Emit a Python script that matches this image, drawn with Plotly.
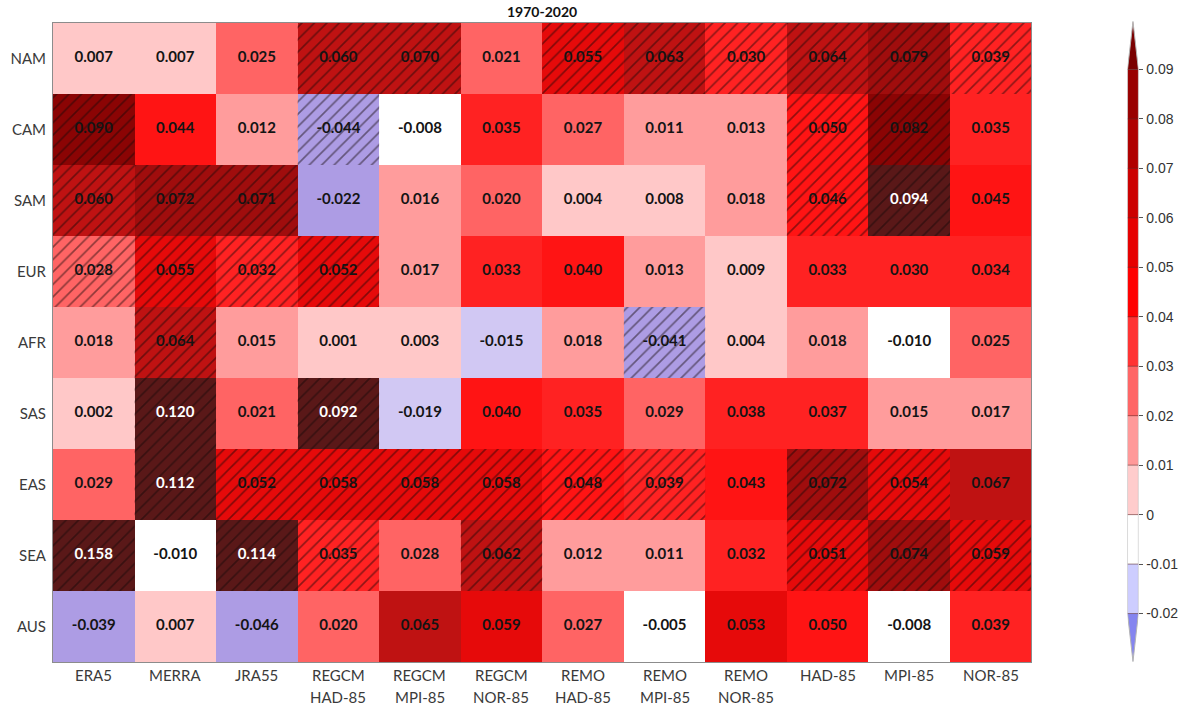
import numpy as np
import plotly.graph_objects as go

# ---------------------------------------------------------------- data
regions = ["NAM", "CAM", "SAM", "EUR", "AFR", "SAS", "EAS", "SEA", "AUS"]
datasets = ["ERA5", "MERRA", "JRA55",
            "REGCM<br>HAD-85", "REGCM<br>MPI-85", "REGCM<br>NOR-85",
            "REMO<br>HAD-85", "REMO<br>MPI-85", "REMO<br>NOR-85",
            "HAD-85", "MPI-85", "NOR-85"]

trend_nam = [0.007, 0.007, 0.025, 0.060, 0.070, 0.021, 0.055, 0.063, 0.030, 0.064, 0.079, 0.039]
trend_cam = [0.090, 0.044, 0.012, -0.044, -0.008, 0.035, 0.027, 0.011, 0.013, 0.050, 0.082, 0.035]
trend_sam = [0.060, 0.072, 0.071, -0.022, 0.016, 0.020, 0.004, 0.008, 0.018, 0.046, 0.094, 0.045]
trend_eur = [0.028, 0.055, 0.032, 0.052, 0.017, 0.033, 0.040, 0.013, 0.009, 0.033, 0.030, 0.034]
trend_afr = [0.018, 0.064, 0.015, 0.001, 0.003, -0.015, 0.018, -0.041, 0.004, 0.018, -0.010, 0.025]
trend_sas = [0.002, 0.120, 0.021, 0.092, -0.019, 0.040, 0.035, 0.029, 0.038, 0.037, 0.015, 0.017]
trend_eas = [0.029, 0.112, 0.052, 0.058, 0.058, 0.058, 0.048, 0.039, 0.043, 0.072, 0.054, 0.067]
trend_sea = [0.158, -0.010, 0.114, 0.035, 0.028, 0.062, 0.012, 0.011, 0.032, 0.051, 0.074, 0.059]
trend_aus = [-0.039, 0.007, -0.046, 0.020, 0.065, 0.059, 0.027, -0.005, 0.053, 0.050, -0.008, 0.039]

# 1 = trend statistically significant (hatched cell)
signif_nam = [0, 0, 0, 1, 1, 0, 1, 1, 1, 1, 1, 1]
signif_cam = [1, 0, 0, 1, 0, 0, 0, 0, 0, 1, 1, 0]
signif_sam = [1, 1, 1, 0, 0, 0, 0, 0, 0, 1, 1, 0]
signif_eur = [1, 1, 1, 1, 0, 0, 0, 0, 0, 0, 0, 0]
signif_afr = [0, 1, 0, 0, 0, 0, 0, 1, 0, 0, 0, 0]
signif_sas = [0, 1, 0, 1, 0, 0, 0, 0, 0, 0, 0, 0]
signif_eas = [0, 1, 1, 1, 1, 1, 1, 1, 0, 1, 1, 0]
signif_sea = [1, 0, 1, 1, 0, 1, 0, 0, 0, 1, 1, 1]
signif_aus = [0, 0, 0, 0, 0, 0, 0, 0, 0, 0, 0, 0]

levels = [-0.02, -0.01, 0.0, 0.01, 0.02, 0.03, 0.04, 0.05, 0.06, 0.07, 0.08, 0.09]
level_labels = ["-0.02", "-0.01", "0", "0.01", "0.02", "0.03", "0.04",
                "0.05", "0.06", "0.07", "0.08", "0.09"]

z = np.array([trend_nam, trend_cam, trend_sam, trend_eur, trend_afr,
              trend_sas, trend_eas, trend_sea, trend_aus])
sig = np.array([signif_nam, signif_cam, signif_sam, signif_eur, signif_afr,
                signif_sas, signif_eas, signif_sea, signif_aus])
nrow, ncol = z.shape

# ---------------------------------------------------------------- colours
# class limits used for the cells (rounded-value ties resolved per class)
cell_edges = [-0.02, -0.0104, 0.0, 0.01, 0.0196, 0.0296, 0.0396,
              0.0504, 0.0596, 0.0704, 0.0796, 0.0904]
cell_colors = ["#ad9ce4", "#d1c8f3", "#ffffff", "#ffc8c8", "#ff9c9c",
               "#ff6464", "#ff2222", "#ff1414", "#e60a0a", "#bf1212",
               "#a00d0d", "#8b0404", "#5a1818"]
bar_colors = ["#8585ef", "#cdcdff", "#ffffff", "#ffcccc", "#ff9999",
              "#ff6666", "#ff3333", "#ff0000", "#e60000", "#cc0000",
              "#b00000", "#990000", "#7a0000"]

ZMIN, ZMAX = -0.05, 0.16


def stepped_scale(edges, colors, zmin, zmax):
    bounds = [zmin] + list(edges) + [zmax]
    scale = []
    for k, c in enumerate(colors):
        lo = (bounds[k] - zmin) / (zmax - zmin)
        hi = (bounds[k + 1] - zmin) / (zmax - zmin)
        scale.append([lo, c])
        scale.append([hi, c])
    scale[0][0] = 0.0
    scale[-1][0] = 1.0
    return scale


cell_scale = stepped_scale(cell_edges, cell_colors, ZMIN, ZMAX)

# ---------------------------------------------------------------- geometry
W, H = 1191, 710
ML, MR, MT, MB = 42, 10, 20, 47
PW, PH = W - ML - MR, H - MT - MB
main_x = [0.0, 988 / PW]
main_y = [(H - MB - 662) / PH, (H - MB - 23) / PH]
cbar_x = [(1127 - ML) / PW, (1138 - ML) / PW]


def paper_y(px):
    return (H - MB - px) / PH


fig = go.Figure()

cols = np.arange(ncol)
rows = np.arange(nrow)

fig.add_trace(go.Heatmap(
    z=z, x=cols, y=rows, zmin=ZMIN, zmax=ZMAX,
    colorscale=cell_scale, showscale=False, hoverinfo="skip",
    xaxis="x", yaxis="y"))

# hatching of significant cells
rr, cc = np.nonzero(sig)
fig.add_trace(go.Bar(
    orientation="h", y=rr, x=np.ones(len(rr)), base=cc - 0.5, width=1.0,
    marker=dict(color="rgba(0,0,0,0)", line=dict(width=0),
                pattern=dict(shape="/", fgcolor="rgba(18,8,8,0.95)",
                             bgcolor="rgba(0,0,0,0)", size=8.8,
                             solidity=0.19, fillmode="overlay")),
    hoverinfo="skip", showlegend=False, xaxis="x", yaxis="y"))

# cell values
R, C = np.meshgrid(rows, cols, indexing="ij")
vals = z.ravel()
text = ["<b>%.3f</b>" % v for v in vals]
tcol = ["#ffffff" if v > 0.0904 else "#141414" for v in vals]
fig.add_trace(go.Scatter(
    x=C.ravel(), y=R.ravel(), mode="text", text=text,
    textfont=dict(family="Lato", size=15, color=tcol),
    hoverinfo="skip", showlegend=False, xaxis="x", yaxis="y"))

# ---------------------------------------------------------------- colour bar
centers = [(levels[k] + levels[k + 1]) / 2 for k in range(len(levels) - 1)]
bar_scale = stepped_scale(levels, bar_colors, ZMIN, ZMAX)
fig.add_trace(go.Heatmap(
    z=[[c] for c in centers], x=[0.5], y=centers, zmin=ZMIN, zmax=ZMAX,
    colorscale=bar_scale, showscale=False, hoverinfo="skip",
    xaxis="x2", yaxis="y2"))

tip = 0.0097
shapes = [
    dict(type="path", xref="x2", yref="y2",
         path=f"M0,{levels[-1]} L1,{levels[-1]} L0.5,{levels[-1] + tip} Z",
         fillcolor=bar_colors[-1], line=dict(width=0)),
    dict(type="path", xref="x2", yref="y2",
         path=f"M0,{levels[0]} L1,{levels[0]} L0.5,{levels[0] - tip} Z",
         fillcolor=bar_colors[0], line=dict(width=0)),
    dict(type="path", xref="x2", yref="y2", layer="above",
         path=(f"M0.5,{levels[-1] + tip} L1,{levels[-1]} L1,{levels[0]} "
               f"L0.5,{levels[0] - tip} L0,{levels[0]} L0,{levels[-1]} Z"),
         line=dict(color="#b4b4b4", width=1)),
]
for lv in levels:
    shapes.append(dict(type="line", xref="x2", yref="y2", x0=0, x1=1,
                       y0=lv, y1=lv, layer="above",
                       line=dict(color="rgba(90,40,40,0.55)", width=1)))

# dataset labels below the grid, one annotation per text line
label_font = dict(family="Lato", size=15, color="#3a3a3a")
annotations = []
for j, name in enumerate(datasets):
    for k, part in enumerate(name.split("<br>")):
        annotations.append(dict(text=part, xref="x", yref="paper", x=j,
                                y=paper_y(675 + 22 * k), xanchor="center",
                                yanchor="middle", showarrow=False,
                                font=label_font))
annotations.append(dict(text="<b>1970-2020</b>", xref="paper", yref="paper",
                        x=(main_x[0] + main_x[1]) / 2, y=paper_y(11),
                        xanchor="center", yanchor="middle", showarrow=False,
                        font=dict(family="Lato", size=14, color="#111111")))

fig.update_layout(
    width=W, height=H,
    margin=dict(l=ML, r=MR, t=MT, b=MB),
    paper_bgcolor="white", plot_bgcolor="white",
    showlegend=False,
    xaxis=dict(domain=main_x, range=[-0.5, ncol - 0.5], tickvals=list(cols),
               showticklabels=False, showgrid=False, zeroline=False,
               showline=True, mirror=True, linecolor="#8c8c8c", linewidth=1,
               ticks="", anchor="y", fixedrange=True),
    yaxis=dict(domain=main_y, range=[nrow - 0.5, -0.5], tickvals=list(rows),
               ticktext=regions, showgrid=False, zeroline=False,
               showline=True, mirror=True, linecolor="#8c8c8c", linewidth=1,
               ticks="", tickfont=label_font,
               anchor="x", fixedrange=True, ticklabelstandoff=3),
    xaxis2=dict(domain=cbar_x, range=[0, 1], visible=False, anchor="y2",
                fixedrange=True),
    yaxis2=dict(domain=[0, 1], range=[-0.03, 0.10], anchor="x2", side="right",
                tickvals=levels, ticktext=level_labels, showgrid=False,
                zeroline=False, showline=False, ticks="outside", ticklen=4,
                tickcolor="#555555",
                tickfont=dict(family="Liberation Sans", size=14, color="#333333"),
                fixedrange=True),
    shapes=shapes,
    annotations=annotations,
)

fig.write_html("out.html")
